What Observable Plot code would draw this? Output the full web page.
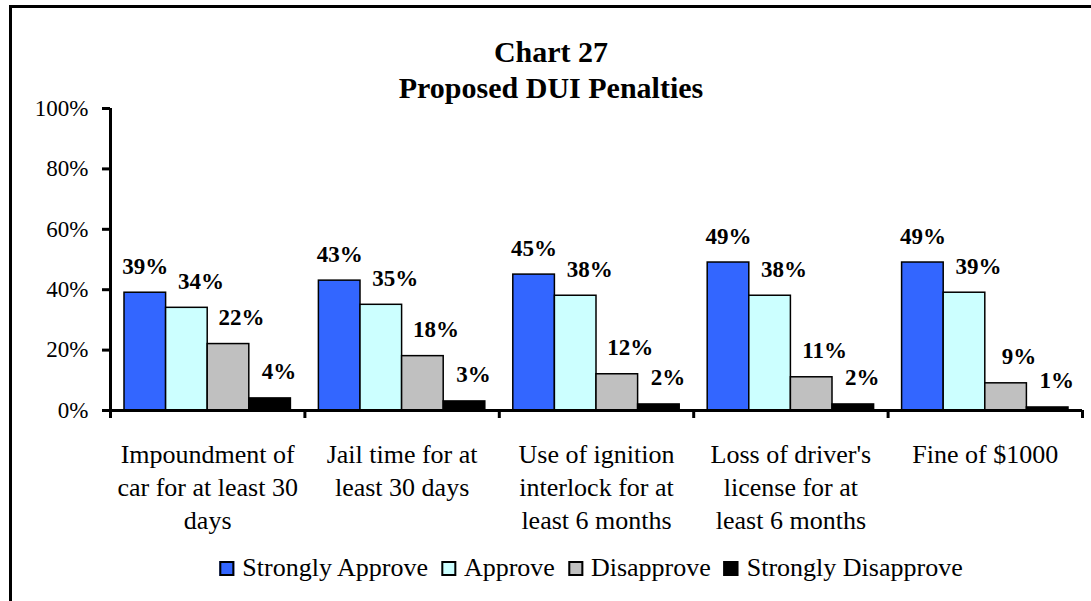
<!DOCTYPE html>
<html><head><meta charset="utf-8">
<script src="https://cdn.jsdelivr.net/npm/d3@7"></script>
<script src="https://cdn.jsdelivr.net/npm/@observablehq/plot@0.6"></script>
<style>
html,body{margin:0;padding:0;background:#fff;overflow:hidden;width:1091px;height:601px;font-family:"Liberation Serif","Times New Roman",serif;color:#000;}
#chart{position:absolute;left:0;top:0;}
#title{position:absolute;left:551px;top:34px;transform:translateX(-50%);font-weight:bold;font-size:30px;line-height:36px;text-align:center;white-space:nowrap;}
#legend{position:absolute;left:591px;top:553px;transform:translateX(-50%);font-size:26px;line-height:30px;white-space:nowrap;}
.item{display:inline-block;margin-right:13px;}
.item:last-child{margin-right:0;}
.sw{display:inline-block;width:11px;height:11px;border:2px solid #000;margin-right:8px;vertical-align:baseline;}
#frame{position:absolute;left:9px;top:5px;width:1200px;height:700px;border:3px solid #000;box-sizing:border-box;pointer-events:none;}
</style></head><body>
<div id="chart"></div>
<div id="title">Chart 27<br>Proposed DUI Penalties</div>
<div id="legend"></div>
<div id="frame"></div>
<script>
// ---- data ----
const categories = [
  "Impoundment of car for at least 30 days",
  "Jail time for at least 30 days",
  "Use of ignition interlock for at least 6 months",
  "Loss of driver's license for at least 6 months",
  "Fine of $1000"
];
const categoryLabels = [
  "Impoundment of\ncar for at least 30\ndays",
  "Jail time for at\nleast 30 days",
  "Use of ignition\ninterlock for at\nleast 6 months",
  "Loss of driver's\nlicense for at\nleast 6 months",
  "Fine of $1000"
];
const series = ["Strongly Approve", "Approve", "Disapprove", "Strongly Disapprove"];
const stronglyApprove    = [39, 43, 45, 49, 49];
const approve            = [34, 35, 38, 38, 39];
const disapprove         = [22, 18, 12, 11, 9];
const stronglyDisapprove = [4, 3, 2, 2, 1];
const yTicks = [0, 20, 40, 60, 80, 100];
const colors = ["#3366FF", "#CCFFFF", "#C0C0C0", "#000000"];

// ---- build table ----
const values = [stronglyApprove, approve, disapprove, stronglyDisapprove];
const rows = [];
categories.forEach((c, gi) => series.forEach((s, si) => rows.push({category: c, gi, series: s, si, value: values[si][gi]})));

const pad = 0.072, w = 0.214;
const bx1 = d => d.gi + pad + d.si * w;
const labelDx = [0, 14, 13, 9];

const plot = Plot.plot({
  width: 1091, height: 540,
  marginLeft: 110, marginRight: 9, marginTop: 108, marginBottom: 130,
  style: {background: "transparent", fontFamily: "'Liberation Serif', 'Times New Roman', serif", fontSize: "23px", color: "#000", overflow: "visible"},
  x: {type: "linear", domain: [0, categories.length], axis: null},
  y: {domain: [0, 100], axis: null},
  color: {domain: series, range: colors},
  marks: [
    Plot.rect(rows, {x1: d => bx1(d), x2: d => bx1(d) + w, y1: () => 0, y2: "value", fill: "series", stroke: "#000", strokeWidth: 1.5}),
    ...series.map((s, si) => Plot.text(rows.filter(d => d.si === si), {
      x: d => bx1(d) + w / 2, y: "value", text: d => d.value + "%",
      fontWeight: "bold", fontSize: 23, lineAnchor: "bottom", dy: -19, dx: labelDx[si], fill: "#000"
    })),
    Plot.ruleY([0], {strokeWidth: 3}),
    Plot.ruleX([0], {strokeWidth: 3}),
    Plot.axisY({ticks: yTicks, tickFormat: d => d + "%", tickSize: 8, tickPadding: 14, strokeWidth: 3, fontSize: 23, label: null}),
    Plot.axisX({ticks: d3.range(categories.length + 1), tickFormat: () => null, tickSize: 8, strokeWidth: 3, label: null}),
    Plot.text(categories, {x: (d, i) => i + 0.5, y: 0, text: (d, i) => categoryLabels[i], lineAnchor: "top", dy: 29, fontSize: 26, lineHeight: 1.27, fill: "#000"})
  ]
});
document.getElementById("chart").appendChild(plot);

// ---- legend ----
const legend = document.getElementById("legend");
series.forEach((s, i) => {
  const item = document.createElement("span");
  item.className = "item";
  const sw = document.createElement("span");
  sw.className = "sw";
  sw.style.background = colors[i];
  item.appendChild(sw);
  item.appendChild(document.createTextNode(s));
  legend.appendChild(item);
});
</script>
</body></html>
